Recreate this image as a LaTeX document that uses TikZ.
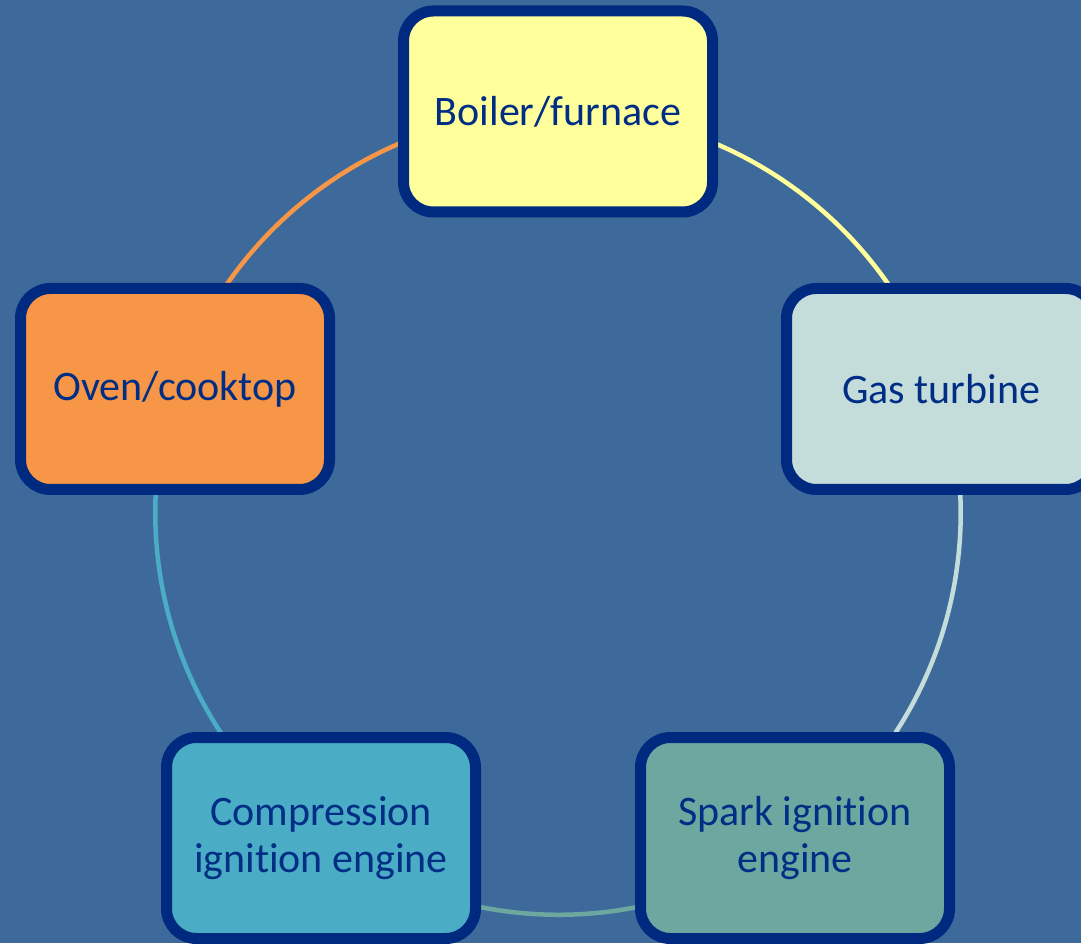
\documentclass[tikz,border=0pt]{standalone}
\usepackage{fontspec}
\setmainfont[Ligatures=NoCommon]{Carlito}
\definecolor{bgc}{HTML}{3E6A9B}
\definecolor{edge}{HTML}{002A80}
\definecolor{txt}{HTML}{002E85}
\definecolor{boilerfill}{HTML}{FFFF9C}
\definecolor{gtfill}{HTML}{C4DCDA}
\definecolor{sparkfill}{HTML}{6CA8A0}
\definecolor{compfill}{HTML}{4BACC6}
\definecolor{ovenfill}{HTML}{F79646}
\pgfdeclarelayer{back}
\pgfdeclarelayer{arcs}
\pgfsetlayers{back,arcs,main}
\begin{document}
\begin{tikzpicture}[x=1pt,y=1pt,
  box/.style={draw=edge, line width=11pt, rounded corners=30pt,
    minimum width=309pt, minimum height=201pt, text=txt,
    font=\fontsize{42}{47}\selectfont, align=center, inner sep=0pt},
  link/.style={line width=4.5pt}]
\begin{pgfonlayer}{back}
\fill[bgc] (0,0) rectangle (1081,943);
\end{pgfonlayer}
\useasboundingbox (0,0) rectangle (1081,943);
\clip (0,0) rectangle (1081,943);
\node[box, fill=boilerfill] (boiler) at (558,831.5) {Boiler/furnace};
\node[box, fill=gtfill] (gt) at (941,554) {Gas turbine};
\node[box, fill=sparkfill] (spark) at (795,105) {Spark ignition\\engine};
\node[box, fill=compfill] (comp) at (321,105) {Compression\\ignition engine};
\node[box, fill=ovenfill] (oven) at (175,554) {Oven/cooktop};
\begin{pgfonlayer}{arcs}
\draw[link, draw=boilerfill] (boiler.center) arc[start angle=90, end angle=18, radius=402];
\draw[link, draw=gtfill] (gt.center) arc[start angle=18, end angle=-54, radius=402];
\draw[link, draw=sparkfill] (spark.center) arc[start angle=-54, end angle=-126, radius=402];
\draw[link, draw=compfill] (comp.center) arc[start angle=-126, end angle=-198, radius=402];
\draw[link, draw=ovenfill] (oven.center) arc[start angle=162, end angle=90, radius=402];
\end{pgfonlayer}
\end{tikzpicture}
\end{document}
